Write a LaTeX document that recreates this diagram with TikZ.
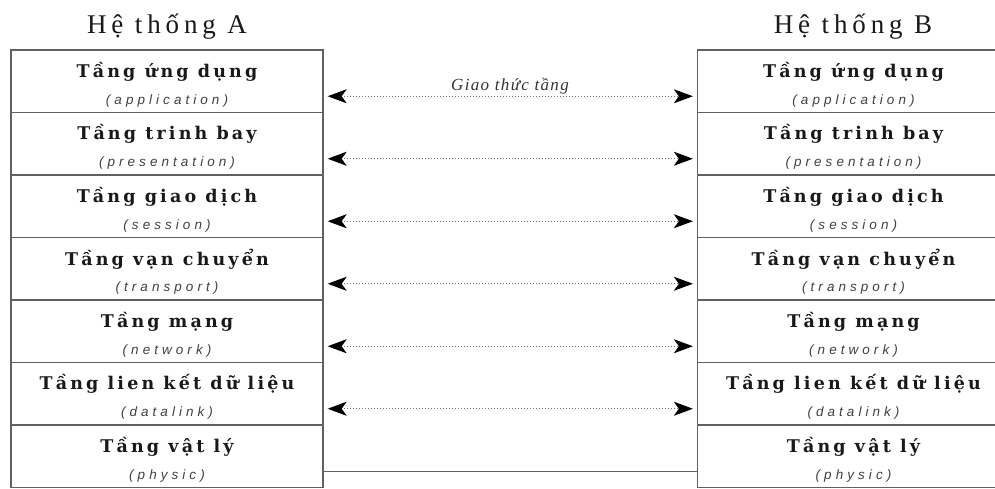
\documentclass[tikz,border=0pt]{standalone}
\usepackage{fontspec}
\setmainfont{Liberation Serif}
\newfontfamily\layerfont[LetterSpace=18]{DejaVu Serif}
\newfontfamily\engfont[LetterSpace=30]{Liberation Sans}
\newfontfamily\titlefont[LetterSpace=18]{Liberation Serif}
\newfontfamily\protofont[LetterSpace=8]{Liberation Serif}
\usetikzlibrary{arrows.meta}
\definecolor{boxline}{gray}{0.38}
\definecolor{dotline}{gray}{0.45}
\tikzset{
  layerbox/.style={draw=boxline, line width=1.3pt, minimum width=312pt, minimum height=62.5pt, inner sep=0pt},
  vname/.style={font=\layerfont\bfseries\fontsize{17.5}{19}\selectfont, text=black!90, inner sep=0pt},
  ename/.style={font=\engfont\itshape\fontsize{13.5}{15}\selectfont, text=black!75, inner sep=0pt},
  systitle/.style={font=\titlefont\fontsize{27}{30}\selectfont, text=black!90, inner sep=0pt},
  peertip/.style={Stealth[length=19pt,width=14pt,inset=5pt,color=black]},
  peer/.style={draw=dotline, line width=1pt, dotted, {Stealth[length=19pt,width=14pt,inset=5pt,color=black]}-{Stealth[length=19pt,width=14pt,inset=5pt,color=black]}, shorten <=4pt, shorten >=4pt},
  phys/.style={draw=boxline, line width=1.3pt}
}
\begin{document}
\begin{tikzpicture}[x=1pt,y=-1pt]
\useasboundingbox (0,0) rectangle (995,489);
\node[systitle] (TA) at (167,27) {Hệ thống A};
\node[systitle] (TB) at (853,27) {Hệ thống B};
\foreach \i/\vn/\en in {1/Tầng ứng dụng/application,2/Tầng trinh bay/presentation,3/Tầng giao dịch/session,4/Tầng vạn chuyển/transport,5/Tầng mạng/network,6/Tầng lien kết dữ liệu/datalink,7/Tầng vật lý/physic}{
  \pgfmathsetmacro{\cy}{50+62.5*(\i-1)+31.25}
  \node[layerbox] (A\i) at (167,\cy) {};
  \node[layerbox] (B\i) at (853.5,\cy) {};
  \node[vname] (A\i v) at ([yshift=9.5pt]A\i.center) {\vn};
  \node[ename] (A\i e) at ([yshift=-19.5pt]A\i.center) {(\en)};
  \node[vname] (B\i v) at ([yshift=9.5pt]B\i.center) {\vn};
  \node[ename] (B\i e) at ([yshift=-19.5pt]B\i.center) {(\en)};
}
\foreach \i in {1,...,6}{
  \draw[peer] ([yshift=-15pt]A\i.east) -- ([yshift=-15pt]B\i.west);
}
\node[font=\protofont\itshape\fontsize{17}{19}\selectfont, text=black!80, inner sep=0pt] (G) at (510,86) {Giao thức tầng};
\draw[phys] ([yshift=-15pt]A7.east) -- ([yshift=-15pt]B7.west);
\end{tikzpicture}
\end{document}
